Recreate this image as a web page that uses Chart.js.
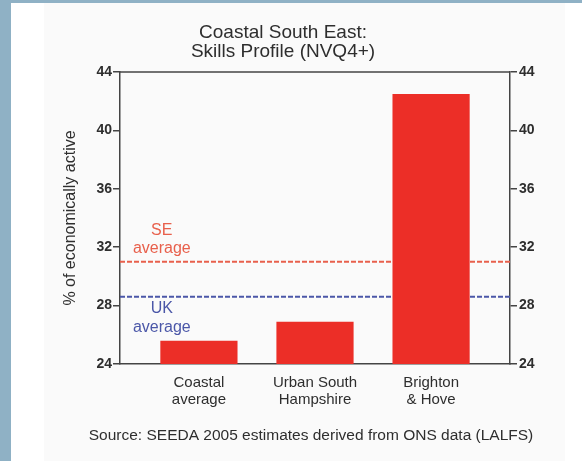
<!DOCTYPE html>
<html>
<head>
<meta charset="utf-8">
<script src="https://cdn.jsdelivr.net/npm/chart.js@4"></script>
<style>
  html, body { margin: 0; padding: 0; }
  body { width: 582px; height: 461px; background: #8fb1c5; position: relative; overflow: hidden; }
  #sheet { position: absolute; left: 11px; top: 3px; right: 0; bottom: 0; background: #ffffff; }
  #inner { position: absolute; left: 44px; top: 3px; width: 521px; bottom: 0; background: #fafafa; }
  canvas { position: absolute; left: 0; top: 0; }
</style>
</head>
<body>
<div id="sheet"></div>
<div id="inner"></div>
<canvas id="c" width="582" height="461"></canvas>
<script>
// Chart content
const titleLines = ['Coastal South East:', 'Skills Profile (NVQ4+)'];
const categories = [['Coastal', 'average'], ['Urban South', 'Hampshire'], ['Brighton', '& Hove']];
const categoryPositions = [1, 2, 3];
const nvq4Share = [25.6, 26.9, 42.5];
const seAverage = 31.0;
const ukAverage = 28.6;
const yTicks = [24, 28, 32, 36, 40, 44];
const yMin = 24, yMax = 44;
const xMin = 0.32, xMax = 3.68;
const yAxisTitle = '% of economically active';
const seLabel = ['SE', 'average'];
const ukLabel = ['UK', 'average'];
const sourceNote = 'Source: SEEDA 2005 estimates derived from ONS data (LALFS)';

const FONT = '"Liberation Sans", Arial, Helvetica, sans-serif';
const AXIS = '#444444';
const TEXT = '#2e2e2e';
const BAR = '#ec2e27';
const SE_COLOR = '#e8604c';
const UK_COLOR = '#4b57a8';

Chart.defaults.font.family = FONT;
Chart.defaults.color = TEXT;

const barData = categoryPositions.map((x, i) => ({ x, y: nvq4Share[i] }));
const flatLine = v => [{ x: xMin, y: v }, { x: xMax, y: v }];

// Frame top, titles, reference-line labels and source note
const decor = {
  id: 'decor',
  afterDraw(chart) {
    const { ctx, chartArea: a, scales: { x, y } } = chart;
    ctx.save();
    ctx.strokeStyle = AXIS;
    ctx.lineWidth = 1.5;
    ctx.beginPath();
    ctx.moveTo(a.left, a.top);
    ctx.lineTo(a.right, a.top);
    ctx.stroke();

    ctx.textAlign = 'center';
    ctx.textBaseline = 'middle';
    ctx.fillStyle = TEXT;
    ctx.font = '19px ' + FONT;
    ctx.fillText(titleLines[0], 283, 33);
    ctx.fillText(titleLines[1], 283, 52);

    const lx = x.getPixelForValue(0.68);
    ctx.font = '16px ' + FONT;
    ctx.fillStyle = SE_COLOR;
    const seY = y.getPixelForValue(seAverage);
    ctx.fillText(seLabel[0], lx, seY - 31);
    ctx.fillText(seLabel[1], lx, seY - 13);
    ctx.fillStyle = UK_COLOR;
    const ukY = y.getPixelForValue(ukAverage);
    ctx.fillText(ukLabel[0], lx, ukY + 12);
    ctx.fillText(ukLabel[1], lx, ukY + 31);

    ctx.fillStyle = TEXT;
    ctx.font = '15.5px ' + FONT;
    ctx.fillText(sourceNote, 311, 436);
    ctx.restore();
  }
};

const yAxisBase = {
  min: yMin,
  max: yMax,
  afterBuildTicks: s => { s.ticks = yTicks.map(v => ({ value: v })); },
  grid: { drawOnChartArea: false, drawTicks: true, tickLength: 7, color: AXIS, lineWidth: 1.5 },
  border: { display: true, color: AXIS, width: 1.5 },
  ticks: { font: { size: 14, weight: 'bold' }, color: TEXT }
};

new Chart(document.getElementById('c'), {
  type: 'bar',
  data: {
    datasets: [
      {
        type: 'bar',
        data: barData,
        backgroundColor: BAR,
        borderWidth: 0,
        categoryPercentage: 1,
        barPercentage: 0.665,
        yAxisID: 'y',
        order: 1
      },
      {
        type: 'line',
        data: flatLine(seAverage),
        borderColor: SE_COLOR,
        borderWidth: 2,
        borderDash: [5, 2],
        pointRadius: 0,
        yAxisID: 'y',
        order: 2
      },
      {
        type: 'line',
        data: flatLine(ukAverage),
        borderColor: UK_COLOR,
        borderWidth: 2,
        borderDash: [5, 2],
        pointRadius: 0,
        yAxisID: 'y',
        order: 2
      }
    ]
  },
  options: {
    responsive: false,
    animation: false,
    layout: { padding: { left: 60, right: 0, top: 72, bottom: 0 } },
    plugins: { legend: { display: false }, tooltip: { enabled: false } },
    scales: {
      x: {
        type: 'linear',
        position: 'bottom',
        offset: false,
        min: xMin,
        max: xMax,
        afterBuildTicks: s => { s.ticks = categoryPositions.map(v => ({ value: v })); },
        afterFit: s => { s.height = 97; },
        grid: { offset: false, drawOnChartArea: false, drawTicks: false },
        border: { display: true, color: AXIS, width: 1.5 },
        ticks: {
          callback: v => categories[categoryPositions.indexOf(v)],
          font: { size: 15, lineHeight: 1.15 },
          color: TEXT,
          padding: 10,
          maxRotation: 0,
          autoSkip: false
        }
      },
      y: Object.assign({}, yAxisBase, {
        position: 'left',
        afterFit: s => { s.width = 60; },
        ticks: Object.assign({}, yAxisBase.ticks, { padding: 1 }),
        title: { display: true, text: yAxisTitle, font: { size: 16 }, color: TEXT, padding: { top: 1, bottom: 0 } }
      }),
      y2: Object.assign({}, yAxisBase, {
        position: 'right',
        afterFit: s => { s.width = 72; },
        ticks: Object.assign({}, yAxisBase.ticks, { padding: 2 })
      })
    }
  },
  plugins: [decor]
});
</script>
</body>
</html>
